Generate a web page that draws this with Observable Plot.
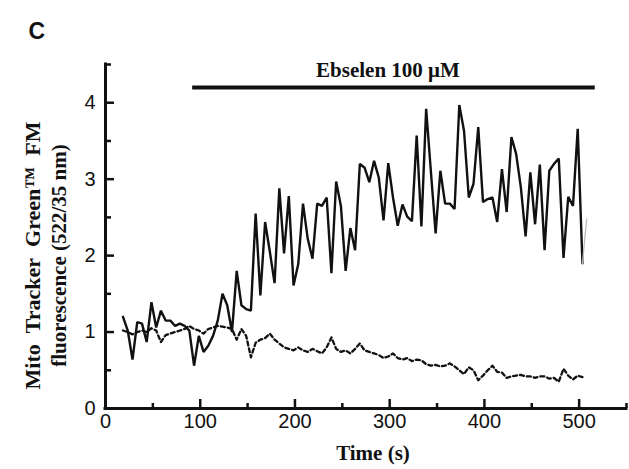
<!DOCTYPE html>
<html><head><meta charset="utf-8">
<script src="https://cdn.jsdelivr.net/npm/d3@7"></script>
<script src="https://cdn.jsdelivr.net/npm/@observablehq/plot@0.6"></script>
<style>
html,body{margin:0;padding:0;background:#fff;}
#chart svg{display:block;}
</style>
</head><body><div id="chart"></div>
<script>
const time = [18.5,23.5,28.5,33.5,38.5,43.5,48.5,53.5,58.5,63.5,68.5,73.5,78.5,83.5,88.5,93.5,98.5,103.5,108.5,113.5,118.5,123.5,128.5,133.5,138.5,143.5,148.5,153.5,158.5,163.5,168.5,173.5,178.5,183.5,188.5,193.5,198.5,203.5,208.5,213.5,218.5,223.5,228.5,233.5,238.5,243.5,248.5,253.5,258.5,263.5,268.5,273.5,278.5,283.5,288.5,293.5,298.5,303.5,308.5,313.5,318.5,323.5,328.5,333.5,338.5,343.5,348.5,353.5,358.5,363.5,368.5,373.5,378.5,383.5,388.5,393.5,398.5,403.5,408.5,413.5,418.5,423.5,428.5,433.5,438.5,443.5,448.5,453.5,458.5,463.5,468.5,473.5,478.5,483.5,488.5,493.5,498.5,503.5];

const ebselen = [1.20,1.02,0.64,1.13,1.11,0.87,1.39,1.06,1.28,1.15,1.15,1.08,1.11,1.08,1.02,0.56,0.95,0.74,0.82,0.95,1.15,1.50,1.35,1.00,1.80,1.35,1.30,1.28,2.55,1.48,2.44,2.05,1.64,2.88,2.03,2.78,1.61,1.89,2.68,2.22,1.96,2.68,2.65,2.76,1.77,2.97,2.65,1.80,2.36,2.07,3.20,3.15,2.96,3.24,3.02,2.46,3.21,2.76,2.39,2.67,2.51,2.45,3.57,2.38,3.92,3.10,2.29,3.11,2.68,2.68,2.61,3.97,3.63,2.76,2.94,3.68,2.70,2.74,2.76,2.44,3.13,2.57,3.55,3.33,2.89,2.25,3.09,2.41,3.19,2.07,3.11,3.20,3.27,1.97,2.77,2.65,3.66,1.90];

const control = [1.02,1.00,0.97,1.00,1.02,1.00,1.05,1.02,0.87,0.96,0.98,1.00,1.02,1.04,1.08,1.04,1.02,0.98,1.04,1.06,1.08,1.07,1.06,1.04,0.90,1.04,0.95,0.67,0.86,0.90,0.92,0.98,0.90,0.85,0.80,0.78,0.76,0.80,0.76,0.74,0.78,0.75,0.72,0.80,0.93,0.78,0.74,0.76,0.72,0.78,0.85,0.76,0.74,0.72,0.70,0.66,0.68,0.72,0.66,0.64,0.66,0.62,0.64,0.63,0.58,0.56,0.57,0.55,0.56,0.59,0.55,0.50,0.45,0.54,0.50,0.37,0.43,0.50,0.56,0.48,0.47,0.40,0.42,0.43,0.44,0.42,0.42,0.40,0.42,0.42,0.39,0.40,0.35,0.52,0.43,0.38,0.43,0.41];

// faint trailing segment at the end of the Ebselen trace
const tailTime = [503.5, 508];
const tailValue = [1.90, 2.48];

// treatment bar
const treatStart = [92];
const treatEnd = [517];
const treatLevel = [4.2];
const treatLabel = ["Ebselen 100 \u03bcM"];

const xMajor = [0,100,200,300,400,500];
const xMinor = [50,150,250,350,450,550];
const yMajor = [0,1,2,3,4];
const yMinor = [0.5,1.5,2.5,3.5,4.5];

const yTitle1 = "Mito\u2002Tracker\u2002Green\u2122\u2002FM";
const yTitle2 = "fluorescence (522/35 nm)";
const xTitle = "Time (s)";
const panel = "C";

const solid = time.map((t,i)=>({t, v: ebselen[i]}));
const dashed = time.map((t,i)=>({t, v: control[i]}));
const tail = tailTime.map((t,i)=>({t, v: tailValue[i]}));
const treat = treatStart.map((s,i)=>({s, e: treatEnd[i], y: treatLevel[i], label: treatLabel[i]}));

const W = 629, H = 469;
const mL = 105, mR = 3, mT = 64, mB = 61;
const pw = W - mL - mR, ph = H - mT - mB;
const serif = "'Liberation Serif','Times New Roman',serif";
const sans = "'Liberation Sans',Arial,sans-serif";

const chart = Plot.plot({
  width: W, height: H,
  marginLeft: mL, marginRight: mR, marginTop: mT, marginBottom: mB,
  style: {background: "#fff", color: "#111"},
  x: {domain: [0, 550], axis: null},
  y: {domain: [0, 4.5], axis: null},
  marks: [
    // data
    Plot.line(dashed, {x: "t", y: "v", stroke: "#111", strokeWidth: 2.3, strokeDasharray: "4,3"}),
    Plot.line(solid, {x: "t", y: "v", stroke: "#111", strokeWidth: 2.4, strokeLinejoin: "miter"}),
    Plot.line(tail, {x: "t", y: "v", stroke: "#bbb", strokeWidth: 1.3}),
    // treatment bar + label
    Plot.ruleY(treat, {x1: "s", x2: "e", y: "y", stroke: "#111", strokeWidth: 4}),
    Plot.text(treat, {x: d => (d.s + d.e) / 2, y: "y", text: "label", dx: -6, dy: -10, lineAnchor: "bottom",
      fontFamily: serif, fontWeight: "bold", fontSize: 21, fill: "#111"}),
    // axes lines
    Plot.ruleX([0], {stroke: "#111", strokeWidth: 3, strokeLinecap: "square"}),
    Plot.ruleY([0], {stroke: "#111", strokeWidth: 3, strokeLinecap: "square"}),
    // inward ticks
    Plot.tickX(xMajor, {x: d => d, insetTop: ph - 9, stroke: "#111", strokeWidth: 2.5}),
    Plot.tickX(xMinor, {x: d => d, insetTop: ph - 5, stroke: "#111", strokeWidth: 2.5}),
    Plot.tickY(yMajor, {y: d => d, insetRight: pw - 9, stroke: "#111", strokeWidth: 2.5}),
    Plot.tickY(yMinor, {y: d => d, insetRight: pw - 6, stroke: "#111", strokeWidth: 2.5}),
    // tick labels
    Plot.axisX(xMajor, {tickSize: 0, tickPadding: 5, fontSize: 20, fontFamily: sans, fill: "#111", label: null, tickFormat: d => String(d)}),
    Plot.axisY(yMajor, {tickSize: 0, tickPadding: 10, fontSize: 20, fontFamily: sans, fill: "#111", label: null, tickFormat: d => String(d)}),
    // axis titles
    Plot.text([xTitle], {frameAnchor: "bottom", dx: 7, dy: 51, lineAnchor: "bottom",
      fontFamily: serif, fontWeight: "bold", fontSize: 21, fill: "#111"}),
    Plot.text([yTitle1], {frameAnchor: "left", dx: -73, dy: 19, rotate: -90,
      textAnchor: "middle", lineAnchor: "middle", fontFamily: serif, fontWeight: "bold", fontSize: 22, fill: "#111"}),
    Plot.text([yTitle2], {frameAnchor: "left", dx: -46, dy: 19, rotate: -90,
      textAnchor: "middle", lineAnchor: "middle", fontFamily: serif, fontWeight: "bold", fontSize: 21, fill: "#111"}),
    // panel letter
    Plot.text([panel], {frameAnchor: "top-left", dx: -77, dy: -26, lineAnchor: "bottom", textAnchor: "start",
      fontFamily: sans, fontWeight: "bold", fontSize: 23, fill: "#111"})
  ]
});
document.getElementById("chart").appendChild(chart);
</script>
</body></html>
